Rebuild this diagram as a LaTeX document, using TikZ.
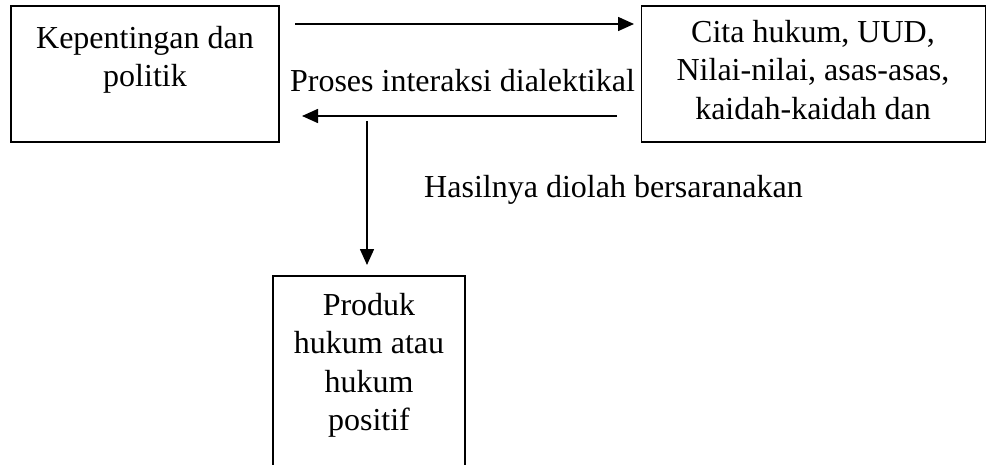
\documentclass[tikz,border=0pt]{standalone}
\usepackage{fontspec}
\setmainfont{Liberation Serif}
\usetikzlibrary{arrows.meta}
\begin{document}
\begin{tikzpicture}[x=1pt,y=-1pt,
  box/.style={draw=black,line width=1.4pt,inner sep=0pt},
  lbl/.style={inner sep=0pt,align=center,font=\fontsize{32}{38.5}\selectfont},
  arr/.style={line width=1.6pt,-{Triangle[length=16pt,width=14pt]}}]
  \useasboundingbox (0,0) rectangle (987,465);
  % boxes
  \node[box,minimum width=268pt,minimum height=136pt] (kp) at (145,74) {};
  \node[box,minimum width=344pt,minimum height=136pt] (ch) at (813.5,74) {};
  % bottom box, open at the lower edge
  \coordinate (pkTL) at (273,276);
  \coordinate (pkTR) at (465,276);
  \draw[line width=1.4pt] (273,470) -- (pkTL) -- (pkTR) -- (465,470);
  % texts
  \node[lbl,anchor=north] (kpt) at (145,26) {Kepentingan dan\\politik};
  \node[lbl,anchor=north] (cht) at (813,20) {Cita hukum, UUD,\\Nilai-nilai, asas-asas,\\kaidah-kaidah dan};
  \node[lbl,anchor=north] (pkt) at (369,293) {Produk\\hukum atau\\hukum\\positif};
  \node[lbl,anchor=base] (pro) at (462.5,92) {Proses interaksi dialektikal};
  \node[lbl,anchor=base] (has) at (613.5,197) {Hasilnya diolah bersaranakan};
  % connectors
  \coordinate (a1s) at (295,24);
  \coordinate (a1e) at (634,24);
  \coordinate (a2s) at (617,116);
  \coordinate (a2e) at (302,116);
  \coordinate (a3s) at (367,121);
  \coordinate (a3e) at (367,265);
  \draw[arr] (a1s) -- (a1e);
  \draw[arr] (a2s) -- (a2e);
  \draw[arr] (a3s) -- (a3e);
\end{tikzpicture}
\end{document}
